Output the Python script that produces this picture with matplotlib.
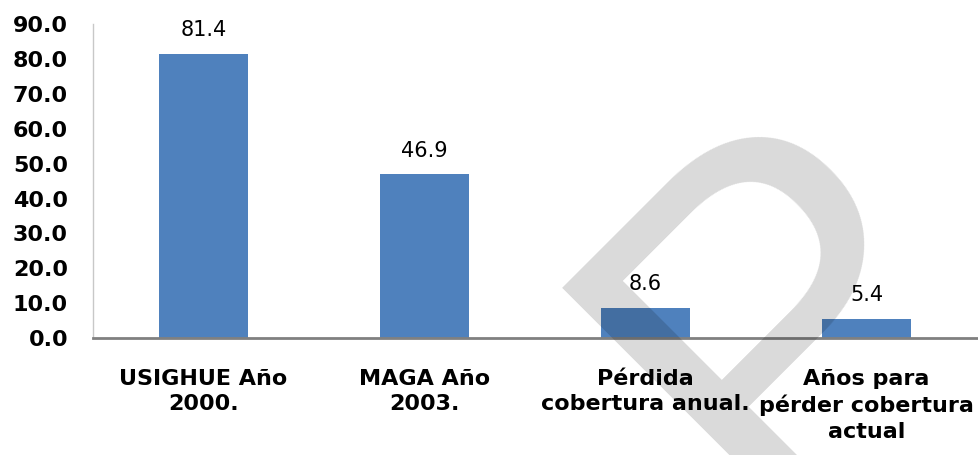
import matplotlib.pyplot as plt

# data
categories = ['USIGHUE Año\n2000.', 'MAGA Año\n2003.',
              'Pérdida\ncobertura anual.', 'Años para\npérder cobertura\nactual']
values = [81.4, 46.9, 8.6, 5.4]
yticks = [0, 10, 20, 30, 40, 50, 60, 70, 80, 90]

plt.rcParams['font.family'] = ['DejaVu Sans']

fig = plt.figure(figsize=(9.79, 4.55), dpi=100)
ax = fig.add_axes([0.095, 0.257, 0.903, 0.69])

x = list(range(len(values)))
bars = ax.bar(x, values, width=0.4, color='#4f81bd', zorder=2)

# value labels above bars
for xi, v in zip(x, values):
    ax.annotate(f'{v:.1f}', (xi, v), xytext=(0, 10), textcoords='offset points',
                ha='center', va='bottom', fontsize=15, color='black')

ax.set_xlim(-0.5, len(values) - 0.5)
ax.set_ylim(0, 90)
ax.set_yticks(yticks)
ax.set_yticklabels([f'{t:.1f}' for t in yticks], fontsize=16, fontweight='bold')
ax.set_xticks(x)
ax.set_xticklabels(categories, fontsize=16, fontweight='bold', linespacing=1.35)

ax.tick_params(axis='y', length=0, pad=18)
ax.tick_params(axis='x', length=0, pad=22)

for s in ['top', 'right']:
    ax.spines[s].set_visible(False)
ax.spines['left'].set_color('#c8c8c8')
ax.spines['left'].set_linewidth(1)
ax.spines['bottom'].set_color('#808080')
ax.spines['bottom'].set_linewidth(2)

# watermark "P" over the chart
fig.text(0.815, 0.29, 'P', family='Liberation Sans', fontsize=370, rotation=45,
         color='black', alpha=0.15, ha='center', va='center', zorder=10)

fig.savefig('out.png', dpi=100)
